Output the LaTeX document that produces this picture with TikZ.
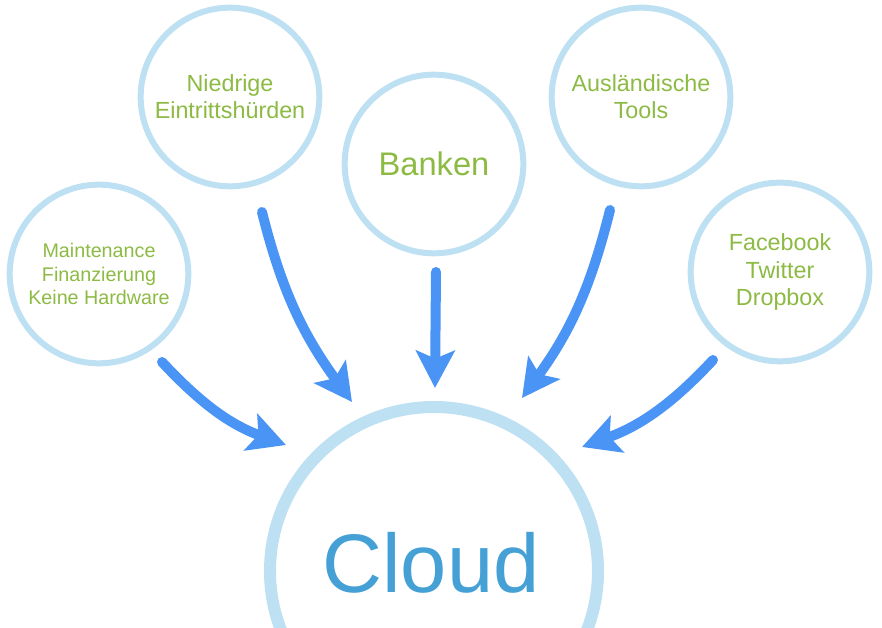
\documentclass[tikz,border=0pt]{standalone}
\usepackage{fontspec}
\setmainfont{Liberation Sans}
\usetikzlibrary{arrows.meta}
\tikzset{>={Stealth[length=28pt,width=29pt,inset=6pt]}}
\definecolor{SkyRing}{HTML}{BDE0F2}
\definecolor{LeafGreen}{HTML}{8CBA43}
\definecolor{FlowBlue}{HTML}{4A94F5}
\definecolor{CloudBlue}{HTML}{45A0D6}
\colorlet{RingLine}{SkyRing}
\colorlet{BubbleText}{LeafGreen}
\tikzset{
  Bubble/.style={
    circle, draw=RingLine, line width=4.5pt,
    minimum size=134pt, inner sep=0pt, outer sep=0pt,
    text=BubbleText, align=center,
    font=\fontsize{17.5}{20.5}\selectfont
  },
  BigBubble/.style={
    circle, draw=RingLine, line width=9pt,
    minimum size=246pt, inner sep=0pt, outer sep=0pt
  },
  Flow/.style={FlowBlue, line width=7.5pt, ->}
}

\begin{document}
\begin{tikzpicture}[x=0.75pt, y=0.75pt, line cap=round]
    \path[use as bounding box] (0,0) rectangle (882,628);
    \clip (0,0) rectangle (882,628);

    \node[Bubble, font=\fontsize{14.8}{17.6}\selectfont] (maint) at (99,354) {Maintenance\\Finanzierung\\Keine Hardware};
    \node[Bubble] (entry) at (230,531) {Niedrige\\Eintrittshürden};
    \node[Bubble, font=\fontsize{24.5}{28}\selectfont] (banks) at (434,464) {Banken};
    \node[Bubble] (tools) at (641,531) {Ausländische\\Tools};
    \node[Bubble] (social) at (780,356) {Facebook\\Twitter\\Dropbox};

    \node[BigBubble] (cloud) at (434,57) {};
    \node[text=CloudBlue, font=\fontsize{62.3}{70}\selectfont, anchor=base] (cloudlabel) at (431,35) {Cloud};

    \draw[Flow] ([shift={(63,-88)}]maint.center) to[out=-47,in=160] ([shift={(-148,126)}]cloud.center);
    \draw[Flow] ([shift={(32,-115)}]entry.center) to[out=-76,in=126] ([shift={(-82,169)}]cloud.center);
    \draw[Flow] ([shift={(2,-108)}]banks.center) -- ([shift={(1,183)}]cloud.center);
    \draw[Flow] ([shift={(-31,-113)}]tools.center) to[out=-104,in=54] ([shift={(88,173)}]cloud.center);
    \draw[Flow] ([shift={(-67,-88)}]social.center) to[out=-133,in=20] ([shift={(148,124)}]cloud.center);
\end{tikzpicture}
\end{document}
